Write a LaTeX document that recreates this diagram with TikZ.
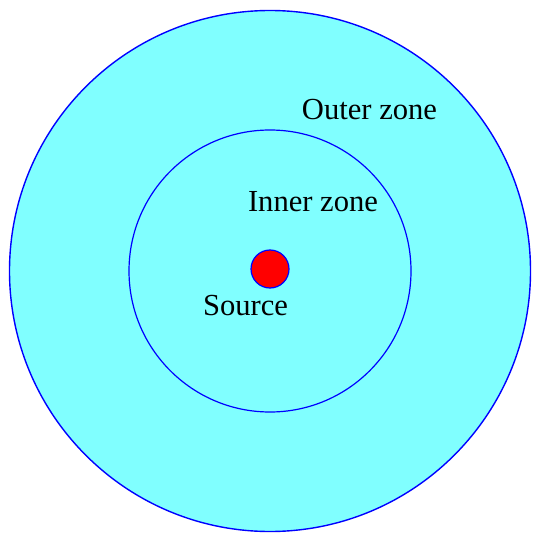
\documentclass[tikz,border=0pt]{standalone}
\usepackage{fontspec}
\setmainfont{Liberation Serif}
\usepackage{tikz}
\usetikzlibrary{positioning}
\usepackage{xcolor}
\definecolor{zonecyan}{RGB}{128,255,255}

\begin{document}
\begin{tikzpicture}[x=0.5pt, y=-0.5pt]

  \useasboundingbox (0,0) rectangle (533,534);

  % Zones
  \draw[fill=zonecyan, draw=blue, line width=0.7pt] (270,271) circle (260.5);
  \draw[draw=blue, line width=0.6pt] (270,271) circle (141);

  % Source
  \draw[fill=red, draw=blue, line width=0.6pt] (270,269) circle (19);

  % Labels
  \node[font=\fontsize{15.3}{18}\selectfont, anchor=base, inner sep=0pt] (outerlbl) at (369.5,120) {Outer zone};
  \node[font=\fontsize{15.3}{18}\selectfont, anchor=base, inner sep=0pt] (innerlbl) at (313,211) {Inner zone};
  \node[font=\fontsize{15.3}{18}\selectfont, anchor=base, inner sep=0pt] (sourcelbl) at (245.5,315) {Source};

\end{tikzpicture}
\end{document}
